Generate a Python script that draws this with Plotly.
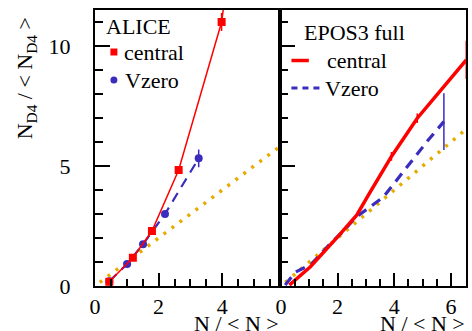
import plotly.graph_objects as go

# ---------------- data ----------------
# ALICE panel
alice_central_x = [0.45, 1.19, 1.79, 2.63, 3.98]
alice_central_y = [0.18, 1.18, 2.29, 4.83, 11.0]
alice_central_err = [0.05, 0.05, 0.06, 0.08, 0.37]
alice_central_line_x = [0.45, 1.19, 1.79, 2.63, 3.98, 4.13]
alice_central_line_y = [0.18, 1.18, 2.29, 4.83, 11.0, 12.5]

alice_vzero_x = [0.45, 1.01, 1.51, 2.20, 3.26]
alice_vzero_y = [0.20, 0.92, 1.74, 3.00, 5.32]
alice_vzero_err = [0.05, 0.05, 0.06, 0.08, 0.37]

# reference line (N_D4/<N_D4> = N/<N>)
ref_x = [0.15, 6.5]
ref_y = [0.15, 6.5]

# EPOS3 panel
epos_central_x = [0.30, 1.04, 2.04, 2.68, 3.09, 3.90, 4.81, 5.66, 6.54]
epos_central_y = [0.04, 0.80, 2.10, 2.96, 3.80, 5.40, 6.99, 8.18, 9.42]
epos_central_err = [0, 0, 0, 0, 0, 0.18, 0.2, 0, 0.8]

epos_vzero_x = [0.15, 0.50, 1.06, 1.70, 2.20, 2.62, 3.61, 4.30, 5.19, 5.75]
epos_vzero_y = [0.04, 0.57, 0.90, 1.71, 2.28, 2.84, 3.70, 4.75, 6.07, 6.85]
epos_vzero_err = [0, 0, 0, 0, 0, 0, 0, 0, 0, 1.18]

# axes
y_ticks = [0, 5, 10]
x_ticks = [0, 2, 4, 6]

RED = "#ff0000"
BLUE = "#3a2cbf"
GOLD = "#e6ac00"
FONT = "Liberation Serif"

fig = go.Figure()

# ---- left panel ----
fig.add_trace(go.Scatter(x=ref_x, y=ref_y, mode="lines", xaxis="x", yaxis="y",
                         line=dict(color=GOLD, width=3.5, dash="3px,7px"),
                         showlegend=False, hoverinfo="skip"))
fig.add_trace(go.Scatter(x=alice_vzero_x, y=alice_vzero_y, mode="lines+markers",
                         xaxis="x", yaxis="y",
                         line=dict(color=BLUE, width=2.2, dash="10px,7px"),
                         marker=dict(symbol="circle", size=8, color=BLUE),
                         error_y=dict(type="data", array=alice_vzero_err, color=BLUE,
                                      thickness=1.5, width=0),
                         showlegend=False))
fig.add_trace(go.Scatter(x=alice_central_line_x, y=alice_central_line_y, mode="lines",
                         xaxis="x", yaxis="y",
                         line=dict(color=RED, width=1.5), showlegend=False))
fig.add_trace(go.Scatter(x=alice_central_x, y=alice_central_y, mode="markers",
                         xaxis="x", yaxis="y",
                         marker=dict(symbol="square", size=8, color=RED),
                         error_y=dict(type="data", array=alice_central_err, color=RED,
                                      thickness=1.5, width=0),
                         showlegend=False))

# ---- right panel ----
fig.add_trace(go.Scatter(x=ref_x, y=ref_y, mode="lines", xaxis="x2", yaxis="y2",
                         line=dict(color=GOLD, width=3.5, dash="3px,7px"),
                         showlegend=False, hoverinfo="skip"))
fig.add_trace(go.Scatter(x=epos_vzero_x, y=epos_vzero_y, mode="lines",
                         xaxis="x2", yaxis="y2",
                         line=dict(color=BLUE, width=3.2, dash="10px,7px"),
                         error_y=dict(type="data", array=epos_vzero_err, color=BLUE,
                                      thickness=1.5, width=0),
                         showlegend=False))
fig.add_trace(go.Scatter(x=epos_central_x, y=epos_central_y, mode="lines",
                         xaxis="x2", yaxis="y2",
                         line=dict(color=RED, width=3.5),
                         error_y=dict(type="data", array=epos_central_err, color=RED,
                                      thickness=1.5, width=0),
                         showlegend=False))

# ---------------- layout ----------------
W, H = 472, 331
ML, MR, MT, MB = 95, 4, 10, 45
split = (280.5 - ML) / (W - ML - MR)

common_x = dict(showline=True, mirror=True, linecolor="black", linewidth=2,
                ticks="inside", ticklen=13, tickwidth=1.5, tickcolor="black",
                tickvals=x_ticks, showgrid=False, zeroline=False,
                tickfont=dict(family=FONT, size=22, color="black"),
                ticklabelstandoff=0,
                minor=dict(ticks="inside", ticklen=7, tickwidth=1.5,
                           tickcolor="black", dtick=0.5, showgrid=False))
common_y = dict(showline=True, mirror=True, linecolor="black", linewidth=2,
                ticks="inside", ticklen=15, tickwidth=1.5, tickcolor="black",
                tickvals=y_ticks, showgrid=False, zeroline=False, range=[0, 11.5],
                tickfont=dict(family=FONT, size=22, color="black"),
                minor=dict(ticks="inside", ticklen=8, tickwidth=1.5,
                           tickcolor="black", dtick=1, showgrid=False))

fig.update_layout(
    width=W, height=H,
    margin=dict(l=ML, r=MR, t=MT, b=MB),
    paper_bgcolor="white", plot_bgcolor="white",
    font=dict(family=FONT, size=22, color="black"),
    xaxis=dict(common_x, domain=[0, split], range=[0, 5.8], anchor="y"),
    xaxis2=dict(common_x, domain=[split, 1], range=[-0.05, 6.53], anchor="y2"),
    yaxis=dict(common_y, anchor="x", ticklabelstandoff=18),
    yaxis2=dict(common_y, anchor="x2", matches="y", showticklabels=False),
    showlegend=False,
)

# legends / titles as annotations
ann = []
def px(xp):
    return (xp - ML) / (W - ML - MR)

def py(yp):
    return (H - MB - yp) / (H - MT - MB)

def txt(x, y, s, xanchor="left", size=22, angle=0, yanchor="middle"):
    ann.append(dict(x=x, y=y, xref="paper", yref="paper", text=s, showarrow=False,
                    xanchor=xanchor, yanchor=yanchor, textangle=angle,
                    font=dict(family=FONT, size=size, color="black")))

txt(px(104), py(26), "ALICE")
txt(px(122), py(52), "central")
txt(px(123), py(80), "Vzero")
txt(px(303), py(32), "EPOS3 full")
txt(px(326), py(60), "central")
txt(px(324), py(88), "Vzero")
txt(px(282), py(323.5), "N / < N >", xanchor="right")
txt(px(469), py(323.5), "N / < N >", xanchor="right")
ann.append(dict(x=px(26), y=py(15), xref="paper", yref="paper", xanchor="center",
                yanchor="top", text="N<sub>D4</sub> / < N<sub>D4</sub> >",
                showarrow=False, textangle=-90,
                font=dict(family=FONT, size=22, color="black")))
fig.update_layout(annotations=ann)

shapes = [
    dict(type="rect", xref="paper", yref="paper",
         x0=px(110.5), x1=px(117.5), y0=py(55.5), y1=py(48.5),
         fillcolor=RED, line=dict(width=0)),
    dict(type="circle", xref="paper", yref="paper",
         x0=px(110.5), x1=px(117.5), y0=py(83.5), y1=py(76.5),
         fillcolor=BLUE, line=dict(width=0)),
    dict(type="line", xref="paper", yref="paper",
         x0=px(292.5), x1=px(310), y0=py(60.5), y1=py(60.5),
         line=dict(color=RED, width=3.5)),
    dict(type="line", xref="paper", yref="paper",
         x0=px(292.5), x1=px(323.5), y0=py(88), y1=py(88),
         line=dict(color=BLUE, width=3.2, dash="6px,5px")),
]
fig.update_layout(shapes=shapes)

fig.write_html("out.html", config={"displayModeBar": False},
               post_script="document.body.style.margin='0';document.body.style.overflow='hidden';")
